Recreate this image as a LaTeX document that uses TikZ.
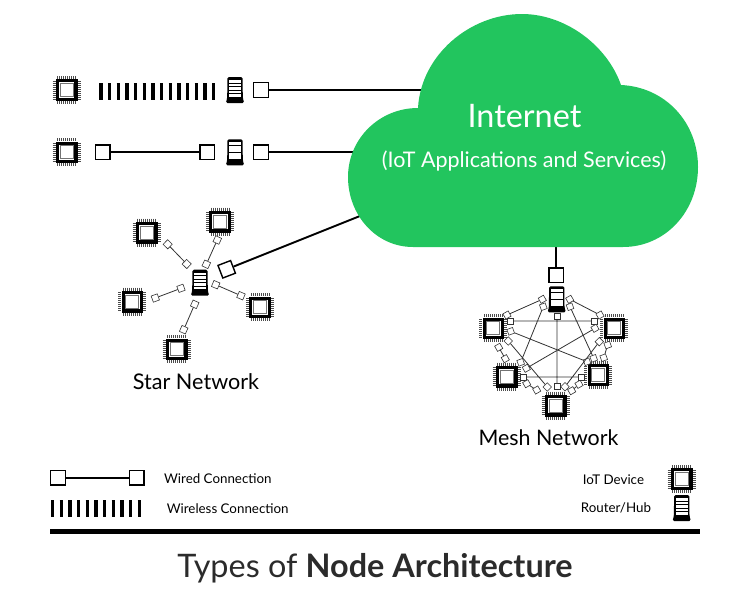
\documentclass[tikz,border=0pt]{standalone}
\usepackage{fontspec}
\setmainfont{Lato}
\usetikzlibrary{calc, positioning}
\definecolor{cloudgreen}{HTML}{22C55E}
\definecolor{titlegray}{HTML}{2B2B2B}
\tikzset{
	port/.style= {rectangle, draw= black, fill= white, line width= 1.4pt, minimum size= 14.5pt, inner sep= 0pt},
	smallport/.style= {rectangle, draw= black!80, fill= white, line width= 0.6pt, minimum size= 6pt, inner sep= 0pt},
	wire/.style= {line width= 1.7pt},
	thinwire/.style= {line width= 0.8pt, draw= black!80},
	wireless/.style= {line width= 17pt, dash pattern= on 3.3pt off 5.37pt},
	iotchip/.pic= {
		\foreach \p in {-9,-7,...,9} {
			\draw[black!70, line width= 0.8pt] (\p,-14) -- (\p,14);
			\draw[black!70, line width= 0.8pt] (-14,\p) -- (14,\p);
		}
		\fill[white] (-11,-11) rectangle (11,11);
		\fill[black] (-10.8,-10.8) rectangle (10.8,10.8);
		\fill[white] (-7.6,-7.6) rectangle (7.6,7.6);
		\fill[black!55] (-6.9,-6.9) rectangle (6.9,6.9);
		\fill[white] (-6,-6) rectangle (6,6);
	},
	routerhub/.pic= {
		\fill[black, rounded corners= 1.5pt] (-7.6,-13) -- (7.6,-13) -- (7.8,8) -- (9.2,13) -- (-9.2,13) -- (-7.8,8) -- cycle;
		\foreach \s in {-10,-6.5,...,5} {
			\fill[white] (-6,\s) rectangle (6,\s+2.7);
		}
	}
}

\begin{document}
\begin{tikzpicture}[x=1pt, y=-1pt]
	\useasboundingbox (0,0) rectangle (750,600);

	% wireless and wired rows
	\pic (chipa) at (66.7,90) {iotchip};
	\coordinate (wa) at (99.3,91);
	\coordinate (wb) at (214.5,91);
	\draw[wireless] (wa) -- (wb);
	\pic (routera) at (235,90) {routerhub};
	\node (porta) [port] at (261,90) {};
	\coordinate (clouda) at (430,90);
	\draw[wire] (porta) -- (clouda);

	\pic (chipb) at (66.7,152.3) {iotchip};
	\node (portb) [port] at (102.7,152.3) {};
	\node (portc) [port] at (207.3,152.3) {};
	\draw[wire] (portb) -- (portc);
	\pic (routerb) at (235,152.3) {routerhub};
	\node (portd) [port] at (261,152.3) {};
	\coordinate (cloudb) at (370,152.3);
	\draw[wire] (portd) -- (cloudb);

	% star network
	\foreach \name/\x/\y in {sa/146.7/232.7, sb/220/221.7, sc/132.3/301.7, sd/260/307.3, se/176.7/349.3} {
		\pic (\name) at (\x,\y) {iotchip};
	}
	\pic (routers) at (200,282.7) {routerhub};
	\foreach \name/\x/\y/\r in {pa/167.7/244.3/46, pb/186.7/264/46, pc/217.3/240/65, pd/206.3/264.3/65,
		pe/181/288.3/20, pf/155.3/298/20, pg/215.7/284.7/-23, ph/241/295.7/-23, pi/194.7/304.3/66, pj/183.7/329.7/66} {
		\node (\name) [smallport, minimum size= 6.5pt, rotate= \r] at (\x,\y) {};
	}
	\draw[thinwire] (pa) -- (pb) (pc) -- (pd) (pe) -- (pf) (pg) -- (ph) (pi) -- (pj);
	\node (ports) [port, minimum size= 13.5pt, rotate= 21] at (226.7,269.3) {};
	\coordinate (cloudc) at (375,210);
	\draw[line width= 1.9pt] (ports) -- (cloudc);
	\node (starlabel) at (196,381.5) {\fontsize{21.6}{26}\selectfont Star Network};

	% mesh network
	\foreach \name/\x/\y in {ma/493.3/328.3, mb/614.3/328.3, mc/506.7/376.7, md/598.3/375, me/555.7/405.7} {
		\pic (\name) at (\x,\y) {iotchip};
	}
	\pic (routerm) at (556.7,299.3) {routerhub};
	\node (portm) [port] at (556.3,275.3) {};
	\coordinate (cloudd) at (556.3,240);
	\draw[wire] (portm) -- (cloudd);
	\foreach \name/\x/\y/\r in {a/542.3/299.3/30, b/543.3/306.7/20, c/569.7/299.3/30, d/570/306.7/20, e/557/316/0,
		f/507/315/30, g/510.7/321/0, h/510.7/331.3/20, i/508.3/341/45, j/600/315/30, k/594.3/321/0,
		l/595/328.3/30, m/599.3/341.7/45, n/607.7/345/20, o/498.7/347.3/30, p/505.3/358.7/30,
		q/520.7/362.3/20, r/526.3/368.3/30, s/523.7/377/0, t/526.7/383.7/30, u/536.7/390/30,
		v/547.3/387/45, w/557/386.7/0, x/565/386.7/45, y/571.7/390.7/30, z/579/384.3/30,
		A/581.7/377/0, B/593.7/358.3/20, C/587/361.7/20, D/603.7/357.7/20} {
		\node (m\name) [smallport, rotate= \r] at (\x,\y) {};
	}
	\draw[thinwire] (mf) -- (ma) (mc) -- (mj) (mb) -- (mq) (md) -- (mB) (me) -- (mw)
		(mg) -- (mk) (mh) -- (mC) (mi) -- (mv) (mo) -- (mp) (ml) -- (mr)
		(mm) -- (mx) (mn) -- (mD) (ms) -- (mA) (mt) -- (mu) (my) -- (mz);
	\node (meshlabel) at (548.5,437.5) {\fontsize{21.4}{26}\selectfont Mesh Network};

	% cloud
	\fill[cloudgreen] (418,108) .. controls (421,55) and (470,14) .. (522,14)
		.. controls (565,14) and (607,45) .. (621,85)
		.. controls (665,87) and (698,122) .. (698,167)
		.. controls (698,212) and (665,247) .. (623,247) -- (413,247)
		.. controls (376,247) and (348,215) .. (348,177)
		.. controls (348,139) and (379,108) .. (418,108) -- cycle;
	\node (internet) [text= white] at (524.5,116.5) {\fontsize{32.4}{38}\selectfont Internet};
	\node (services) [text= white] at (524,161.5) {\fontsize{21.5}{26}\selectfont (IoT Applications and Services)};

	% legend
	\node (lega) [port] at (58,477.7) {};
	\node (legb) [port] at (136.7,477.7) {};
	\draw[wire] (lega) -- (legb);
	\node (wiredlabel) [anchor= west, inner sep= 0pt] at (164,479) {\fontsize{13.35}{16}\selectfont Wired Connection};
	\coordinate (lwa) at (51,508);
	\coordinate (lwb) at (140.7,508);
	\draw[wireless] (lwa) -- (lwb);
	\node (wirelesslabel) [anchor= west, inner sep= 0pt] at (166.7,509) {\fontsize{13.35}{16}\selectfont Wireless Connection};
	\node (devlabel) [anchor= west, inner sep= 0pt] at (582.7,479.5) {\fontsize{13.35}{16}\selectfont IoT Device};
	\node (hublabel) [anchor= west, inner sep= 0pt] at (580.7,508) {\fontsize{13.35}{16}\selectfont Router/Hub};
	\pic (legchip) at (681.7,479) {iotchip};
	\pic (legrouter) at (681.7,508) {routerhub};

	\coordinate (bara) at (50,531);
	\coordinate (barb) at (700,531);
	\draw[line width= 5pt] (bara) -- (barb);
	\node (title) [text= titlegray] at (375,568.5) {\fontsize{32.4}{38}\selectfont Types of \textbf{Node Architecture}};
\end{tikzpicture}
\end{document}
